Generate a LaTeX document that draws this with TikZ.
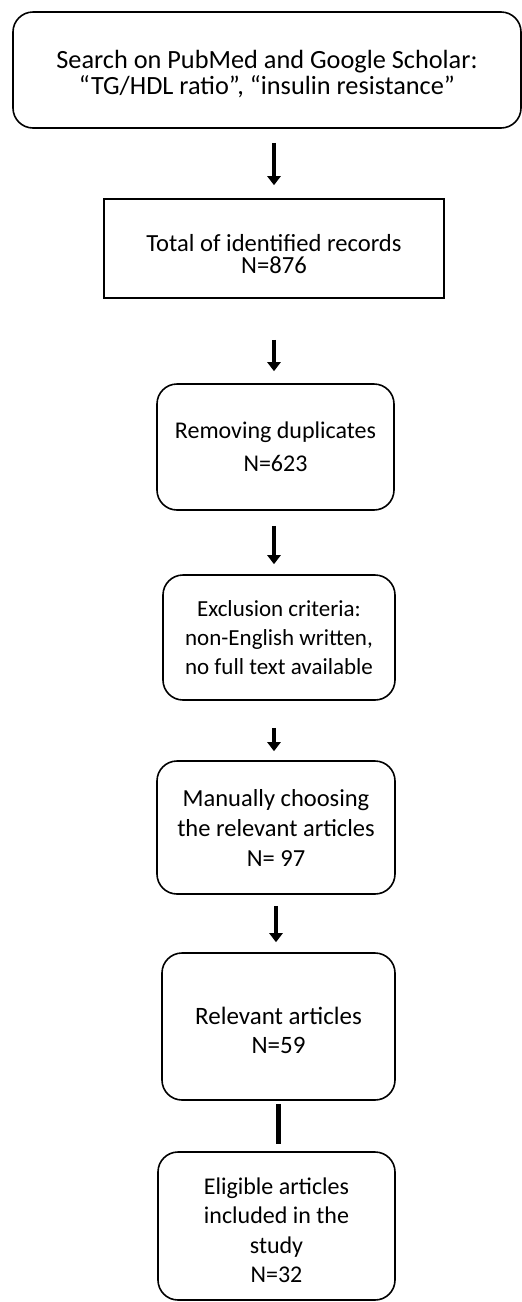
\documentclass[tikz,border=0pt]{standalone}
\usepackage{fontspec}
\setmainfont{Carlito}
\usetikzlibrary{arrows.meta}
\tikzset{
	roundbox/.style={draw=black, line width=1.6pt, rounded corners=20pt, align=center, inner sep=0pt, font={\fontsize{24}{29.5}\selectfont}},
	sharpbox/.style={draw=black, line width=1.6pt, align=center, inner sep=0pt, font={\fontsize{24.6}{22.5}\selectfont}},
	flowarrow/.style={line width=4pt, -{Triangle[width=13pt,length=9pt]}},
	flowbar/.style={line width=4.5pt},
}
% pushes the lines of a box down by half its argument
\newcommand{\pushdown}[1]{\rule{0pt}{#1}}

\begin{document}
\begin{tikzpicture}[x=1pt, y=-1pt]
		%%%%% START %%%%%
		\useasboundingbox (0, 0) rectangle (522, 1302);
		
		\node[roundbox, minimum width=508pt, minimum height=116pt, font={\fontsize{26.3}{26}\selectfont}] (search) at (267, 70) {\pushdown{27pt}Search on PubMed and Google Scholar:\\“TG/HDL ratio”, “insulin resistance”};
		\node[sharpbox, minimum width=340pt, minimum height=99pt] (total) at (274, 248.5) {\pushdown{28pt}Total of identified records\\N=876};
		\node[roundbox, minimum width=237pt, minimum height=126pt, font={\fontsize{24}{33}\selectfont}] (dupl) at (275.5, 447) {Removing duplicates\\N=623};
		\node[roundbox, minimum width=232pt, minimum height=125pt, font={\fontsize{23}{29}\selectfont}] (excl) at (279, 637.5) {Exclusion criteria:\\non-English written,\\no full text available};
		\node[roundbox, minimum width=238pt, minimum height=133pt, font={\fontsize{24.5}{30}\selectfont}] (manual) at (276, 827.5) {Manually choosing\\the relevant articles\\N= 97};
		\node[roundbox, minimum width=233pt, minimum height=147pt, font={\fontsize{25}{29}\selectfont}] (relev) at (278.5, 1026.5) {\pushdown{26pt}Relevant articles\\N=59};
		\node[roundbox, minimum width=237pt, minimum height=148pt] (elig) at (276.5, 1226) {\pushdown{25pt}Eligible articles\\included in the\\study\\N=32};
		
		\draw[flowarrow, shorten <=14pt, shorten >=13pt] (search.south -| total) -- (total.north);
		\draw[flowarrow, shorten <=41pt, shorten >=12pt] (total.south) -- (total.south |- dupl.north);
		\draw[flowarrow, shorten <=15pt, shorten >=10pt] (dupl.south -| total) -- (total |- excl.north);
		\draw[flowarrow, shorten <=27pt, shorten >=9pt] (excl.south -| total) -- (total |- manual.north);
		\draw[flowarrow, shorten <=11pt, shorten >=10pt] (manual.south) -- (manual.south |- relev.north);
		\draw[flowbar, shorten <=3pt, shorten >=7pt] (relev.south) -- (relev.south |- elig.north);
		
		%%%%% END %%%%%
\end{tikzpicture}
\end{document}
